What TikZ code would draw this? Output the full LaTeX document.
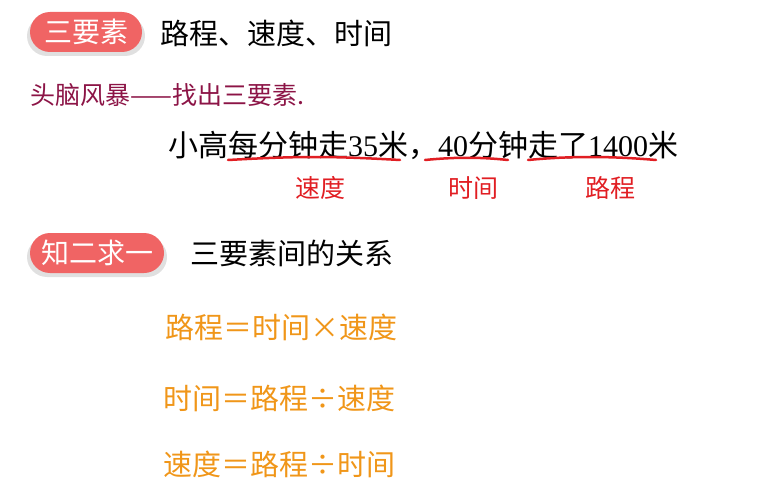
\documentclass[tikz,border=0pt]{standalone}
\usepackage{fontspec}
\setmainfont{Liberation Serif}
\newfontfamily\cjk{Noto Sans CJK SC}
\newfontfamily\num{Liberation Serif}
\definecolor{badge}{RGB}{240,100,100}
\definecolor{plum}{RGB}{140,20,70}
\definecolor{redlab}{RGB}{225,30,35}
\definecolor{orng}{RGB}{240,150,25}
\tikzset{
  badgebox/.style={fill=badge,rounded corners=20pt,minimum height=40pt,text=white,inner sep=0pt,font=\cjk\fontsize{28}{28}\selectfont},
  shadowbox/.style={fill=black!12,rounded corners=20pt,minimum height=40pt,inner sep=0pt},
  title/.style={anchor=west,inner sep=0pt,font=\cjk\fontsize{29}{29}\selectfont},
  lab/.style={inner sep=0pt,text=redlab,font=\cjk\fontsize{25}{25}\selectfont},
  formula/.style={anchor=west,inner sep=0pt,text=orng,font=\cjk\fontsize{29}{29}\selectfont},
  uline/.style={draw=redlab,line width=2.5pt,line cap=round}
}
\begin{document}
\begin{tikzpicture}[x=1pt,y=-1pt]
\useasboundingbox (0,0) rectangle (776,500);
\node[shadowbox,minimum width=118pt] at (86,36) {};
\node[badgebox,minimum width=112pt] (b1) at (86,32) {三要素};
\node[title] (t1) at (160,33) {路程、速度、时间};
\node[anchor=west,inner sep=0pt,text=plum,font=\cjk\fontsize{25}{25}\selectfont] (t2) at (30,95) {头脑风暴——找出三要素.};
\node[title,font=\cjk\fontsize{30}{30}\selectfont] (s) at (168,145) {小高每分钟走{\num 35}米，{\num 40}分钟走了{\num 1400}米};
\coordinate (u1a) at (228,160); \coordinate (u1b) at (400,160);
\coordinate (u2a) at (425,160); \coordinate (u2b) at (508,160);
\coordinate (u3a) at (528,160); \coordinate (u3b) at (656,160);
\draw[uline] (u1a) .. controls (300,156) and (330,156) .. (u1b);
\draw[uline] (u2a) .. controls (455,157) and (480,157) .. (u2b);
\draw[uline] (u3a) .. controls (570,156) and (610,156) .. (u3b);
\node[lab] (l1) at (320,188) {速度};
\node[lab] (l2) at (473,188) {时间};
\node[lab] (l3) at (610,188) {路程};
\node[shadowbox,minimum width=140pt] at (97,257) {};
\node[badgebox,minimum width=134pt] (b2) at (97,253) {知二求一};
\node[title] (t3) at (190,253) {三要素间的关系};
\node[formula] (f1) at (165,327) {路程＝时间×速度};
\node[formula] (f2) at (163,398) {时间＝路程÷速度};
\node[formula] (f3) at (163,464) {速度＝路程÷时间};
\end{tikzpicture}
\end{document}
